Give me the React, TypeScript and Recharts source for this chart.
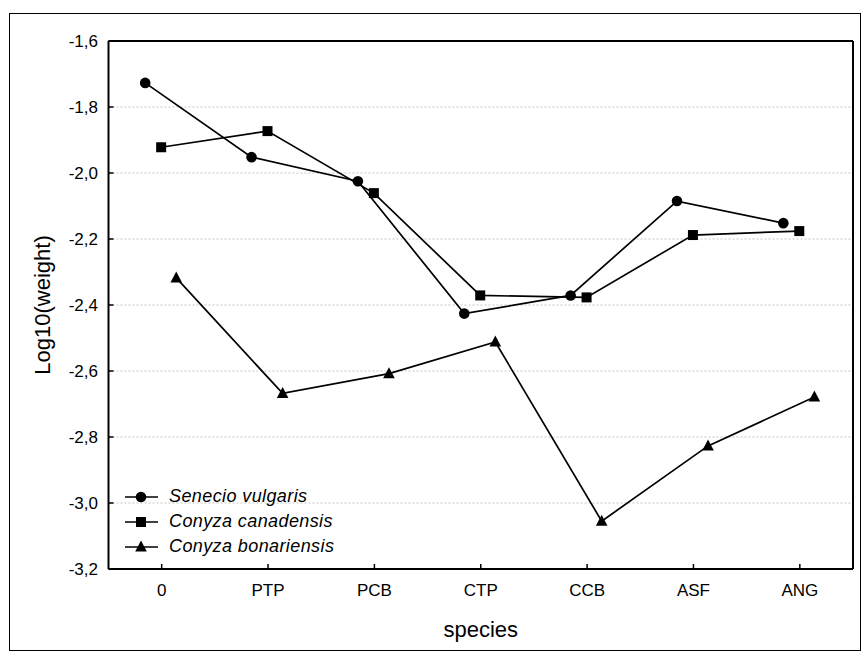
import React from "react";
import {
  LineChart,
  Line,
  XAxis,
  YAxis,
  CartesianGrid,
} from "recharts";

const CATEGORIES = ["0", "PTP", "PCB", "CTP", "CCB", "ASF", "ANG"];
const SENECIO = [-1.727, -1.952, -2.025, -2.426, -2.371, -2.085, -2.152];
const CANADENSIS = [-1.922, -1.873, -2.061, -2.371, -2.377, -2.188, -2.176];
const BONARIENSIS = [-2.318, -2.668, -2.608, -2.512, -3.055, -2.827, -2.679];
const Y_TICKS = [-3.2, -3.0, -2.8, -2.6, -2.4, -2.2, -2.0, -1.8, -1.6];
const X_TICKS = [0, 1, 2, 3, 4, 5, 6];

// small horizontal dodge per series, in category units
const SERIES = [
  { name: "Senecio vulgaris", values: SENECIO, shift: -0.155, marker: "circle" },
  { name: "Conyza canadensis", values: CANADENSIS, shift: -0.005, marker: "square" },
  { name: "Conyza bonariensis", values: BONARIENSIS, shift: 0.137, marker: "triangle" },
] as const;

const FONT = "Arial, 'Liberation Sans', sans-serif";

function Marker({ kind, cx, cy }: { kind: string; cx: number; cy: number }) {
  if (kind === "circle") return <circle cx={cx} cy={cy} r={5.3} fill="#000" />;
  if (kind === "square")
    return <rect x={cx - 5} y={cy - 5} width={10} height={10} fill="#000" />;
  return (
    <polygon
      points={`${cx},${cy - 6.5} ${cx - 5.8},${cy + 4.5} ${cx + 5.8},${cy + 4.5}`}
      fill="#000"
    />
  );
}

function LegendBox() {
  return (
    <div style={{ fontFamily: FONT }}>
      {SERIES.map((s) => (
        <div key={s.name} style={{ display: "flex", alignItems: "center", height: 25 }}>
          <svg width={44} height={20} style={{ display: "block" }}>
            <line x1={0} x2={33} y1={10} y2={10} stroke="#000" strokeWidth={1.7} />
            <Marker kind={s.marker} cx={16} cy={10} />
          </svg>
          <span style={{ fontStyle: "italic", fontSize: 18, color: "#000", letterSpacing: 0.4 }}>
            {s.name}
          </span>
        </div>
      ))}
    </div>
  );
}

export default function App() {
  const fmt = (v: number) => v.toFixed(1).replace(".", ",");
  return (
    <div style={{ position: "absolute", left: 0, top: 0, width: 862, height: 651, background: "#fff" }}>
      <div
        style={{
          position: "absolute",
          left: 9,
          top: 13,
          width: 852,
          height: 638,
          boxSizing: "border-box",
          border: "1.5px solid #000",
        }}
      />
      <div style={{ position: "absolute", left: 0, top: 0 }}>
        <LineChart
          width={862}
          height={651}
          margin={{ top: 40, right: 8, bottom: 18, left: 0 }}
          style={{ fontFamily: FONT }}
        >
          <CartesianGrid
            horizontal
            vertical={false}
            stroke="#c4c4c4"
            strokeDasharray="2 2"
          />
          <XAxis
            type="number"
            dataKey="x"
            domain={[-0.5, 6.5]}
            ticks={X_TICKS}
            interval={0}
            tickFormatter={(v: number) => CATEGORIES[v]}
            tickSize={-5}
            tickMargin={20}
            height={64}
            axisLine={{ stroke: "#000", strokeWidth: 2 }}
            tickLine={{ stroke: "#000", strokeWidth: 1.5 }}
            tick={{ fill: "#000", fontSize: 17, fontFamily: FONT }}
            label={{
              value: "species",
              position: "insideBottom",
              offset: -4,
              fill: "#000",
              fontSize: 22,
              fontFamily: FONT,
            }}
          />
          <XAxis
            xAxisId="top"
            orientation="top"
            type="number"
            domain={[-0.5, 6.5]}
            ticks={X_TICKS}
            interval={0}
            tickFormatter={() => ""}
            tickSize={-5}
            height={1}
            axisLine={{ stroke: "#000", strokeWidth: 2 }}
            tickLine={{ stroke: "#000", strokeWidth: 1.5 }}
          />
          <YAxis
            type="number"
            domain={[-3.2, -1.6]}
            ticks={Y_TICKS}
            interval={0}
            tickFormatter={fmt}
            tickSize={-5}
            tickMargin={15.5}
            width={108.5}
            axisLine={{ stroke: "#000", strokeWidth: 2 }}
            tickLine={{ stroke: "#000", strokeWidth: 1.5 }}
            tick={{ fill: "#000", fontSize: 17, fontFamily: FONT }}
            label={{
              value: "Log10(weight)",
              angle: -90,
              position: "insideLeft",
              offset: 42,
              fill: "#000",
              fontSize: 22,
              fontFamily: FONT,
              style: { textAnchor: "middle" },
            }}
          />
          <YAxis
            yAxisId="right"
            orientation="right"
            type="number"
            domain={[-3.2, -1.6]}
            ticks={Y_TICKS}
            interval={0}
            tickFormatter={() => ""}
            tickSize={-5}
            width={1}
            axisLine={{ stroke: "#000", strokeWidth: 2 }}
            tickLine={{ stroke: "#000", strokeWidth: 1.5 }}
          />
          {SERIES.map((s) => (
            <Line
              key={s.name}
              name={s.name}
              data={CATEGORIES.map((c, i) => ({ x: i + s.shift, y: s.values[i], cat: c }))}
              dataKey="y"
              stroke="#000"
              strokeWidth={1.7}
              isAnimationActive={false}
              activeDot={false}
              dot={(p: any) => (
                <Marker key={`${s.name}-${p.index}`} kind={s.marker} cx={p.cx} cy={p.cy} />
              )}
            />
          ))}
        </LineChart>
      </div>
      <div style={{ position: "absolute", left: 125, top: 484 }}>
        <LegendBox />
      </div>
    </div>
  );
}
